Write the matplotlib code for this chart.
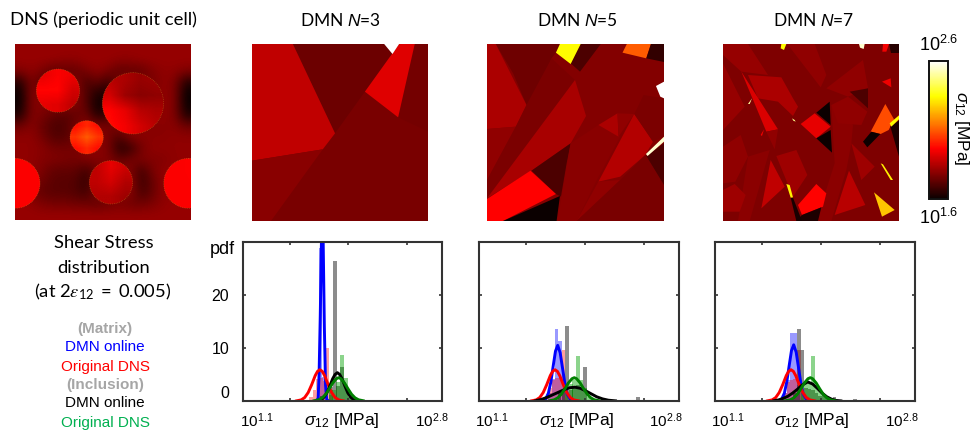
import numpy as np
import matplotlib
matplotlib.use("Agg")
import matplotlib.pyplot as plt
from matplotlib.collections import PolyCollection
from matplotlib.colors import Normalize
from matplotlib.cm import ScalarMappable
from matplotlib.patches import Circle

plt.rcParams["font.family"] = ["Liberation Sans", "DejaVu Sans"]
plt.rcParams["mathtext.fontset"] = "custom"
plt.rcParams["mathtext.rm"] = "Liberation Sans"
plt.rcParams["mathtext.it"] = "Liberation Sans:italic"
plt.rcParams["mathtext.bf"] = "Liberation Sans:bold"

W, H = 971, 432

# ---------- field data: colour-scale fraction between 10^1.6 and 10^2.6 ----------
dns_matrix_pct = [
    [21,21,21,21,21,21,21,21,21,21,21,21,21,21,21,21],
    [21,21,21,21,20,20,21,21,21,20,20,21,21,21,21,21],
    [18,20,17,12,13,13,17,20,17,12,13,13,18,20,20,18],
    [ 4,18,10,19,19,19, 9,14, 7,19,19,19,16,20,18, 4],
    [ 0,18,18,19,19,19,11, 3, 3,19,19,19,19,20,18, 0],
    [ 0,18,18,19,19,19,11, 0, 4,19,19,19,19,20,18, 0],
    [ 3,18,17,13,12,13,16, 2, 9,19,19,19,19,20,18, 3],
    [15,19,14,10,10,16,19,18,16,18,19,19,19,19,19,15],
    [20,20,16,11,11,16,20,20,16,10,19,19,19,19,20,20],
    [20,20,19,16,16,16,20,20,17, 4, 6,16,20,20,20,20],
    [20,20,18,18,17,16,18,18,18,13,16,18,18,18,20,20],
    [20,20,17,13,13,13, 8,16,18,18,18, 8,17,20,20,20],
    [20,18,15,12,12,11, 6,18,20,20,20, 7,14,20,20,20],
    [20,16,13,12,12,11, 8,19,20,20,20, 9,14,20,20,20],
    [21,20,17,16,16,15,15,13,15,17,15,15,17,20,21,21],
    [21,21,21,21,21,21,21,21,21,21,21,21,21,21,21,21],
]
dns_circle_centers = [(173, 272), (398, 310), (259, 412), (332, 547), (44, 550), (565, 550)]
dns_circle_radii = [65, 92, 50, 65, 75, 75]
dns_circle_values = [
    [[.33,.36,.34],[.37,.37,.30],[.33,.32,.27]],
    [[.26,.24,.21,.22],[.30,.22,.19,.20],[.37,.33,.26,.24],[.38,.35,.30,.26]],
    [[.38,.42,.38],[.44,.50,.44],[.38,.42,.38]],
    [[.27,.33,.29],[.27,.30,.25],[.25,.25,.22]],
    [[.36,.36],[.37,.36]],
    [[.36,.37],[.36,.36]],
]

n3_cells = [
    [(35,42),(565,42),(565,573),(35,573)],
    [(158,42),(435,42),(460,70),(375,185),(285,310)],
    [(525,42),(565,42),(565,305),(475,262)],
    [(35,42),(158,42),(285,310),(248,358),(35,392)],
    [(35,392),(248,358),(92,573),(35,573)],
    [(478,42),(525,42),(475,262),(375,185)],
    [(433,42),(478,42),(458,72)],
]
n3_values = [.165,.145,.16,.27,.19,.32,1.0]

n5_cells = [
    [(22,42),(551,42),(551,573),(22,573)],
    [(48,42),(240,42),(228,68),(215,85),(155,225),(140,225),(100,130)],
    [(22,42),(48,42),(140,225),(108,290),(22,297)],
    [(22,297),(108,290),(22,450)],
    [(22,450),(108,290),(140,225),(215,85),(285,150),(150,370),(22,505)],
    [(22,505),(285,150),(318,258),(272,340),(155,422)],
    [(272,340),(155,422),(228,492),(243,500),(260,400)],
    [(22,507),(152,422),(228,492),(70,573),(22,573)],
    [(70,573),(240,498),(230,573)],
    [(272,340),(355,285),(420,320),(350,450),(290,573),(232,573),(245,500)],
    [(355,285),(412,250),(415,320)],
    [(412,250),(462,252),(415,320)],
    [(462,252),(518,335),(495,375),(420,440),(355,455)],
    [(355,455),(420,450),(290,573)],
    [(495,375),(551,465),(551,573),(290,573),(420,450)],
    [(498,378),(551,340),(551,465)],
    [(490,195),(551,205),(551,320),(518,335),(462,252)],
    [(300,42),(362,42),(300,125),(272,100)],
    [(240,42),(302,42),(272,102),(228,68)],
    [(440,42),(512,42),(498,85),(427,68)],
    [(512,42),(551,42),(551,96),(498,85)],
    [(527,168),(551,155),(551,205),(540,200)],
    [(497,372),(551,320),(551,335),(502,378)],
]
n5_values = [.18,.15,.24,.2,.17,.235,.1,.365,0,.19,.24,.2,.25,.2,.165,.1,.17,.1,.74,.5,.06,1.0,.95]

n7_cells = [
    [(25,42),(553,42),(553,573),(25,573)],
    [(350,225),(415,285),(410,340),(395,420),(350,573),(305,573),(360,400)],
    [(165,360),(105,573),(70,573),(100,380)],
    [(25,42),(100,42),(160,135),(80,125),(25,75)],
    [(25,100),(90,230),(25,300)],
    [(218,42),(300,42),(335,135),(318,172)],
    [(335,175),(445,90),(460,175),(400,200)],
    [(100,135),(200,142),(235,205),(250,230),(235,258),(190,215),(130,205)],
    [(80,125),(190,298),(155,305)],
    [(155,305),(190,298),(180,358)],
    [(25,350),(78,315),(100,380),(62,455),(25,460)],
    [(25,480),(60,462),(93,495),(75,545),(25,545)],
    [(185,378),(245,360),(278,435),(235,500)],
    [(168,390),(210,470),(140,535)],
    [(403,422),(452,525),(360,555)],
    [(410,340),(480,410),(440,450)],
    [(350,225),(400,200),(458,245),(440,285),(370,280)],
    [(250,525),(305,462),(335,490),(325,530),(262,555)],
    [(262,555),(320,532),(310,573),(245,573)],
    [(258,282),(300,250),(348,290),(305,325)],
    [(305,248),(345,215),(348,285)],
    [(305,325),(348,300),(352,368)],
    [(468,305),(512,222),(538,268),(522,300),(498,312)],
    [(445,335),(470,305),(497,312),(458,352)],
    [(527,290),(553,272),(553,380)],
    [(525,280),(553,256),(553,268),(530,290)],
    [(405,185),(460,175),(460,235)],
    [(502,155),(528,145),(530,172)],
    [(505,42),(523,42),(515,65),(503,65)],
    [(523,42),(553,42),(553,68),(530,68)],
    [(200,42),(215,42),(208,60),(198,55)],
    [(433,42),(450,42),(447,57),(436,53)],
    [(100,222),(112,205),(105,222)],
    [(232,265),(240,270),(243,275),(236,272)],
    [(138,315),(148,298),(142,318)],
    [(228,503),(235,503),(262,573),(245,573)],
    [(215,462),(225,465),(235,502),(228,503)],
    [(478,487),(540,540),(502,560)],
    [(498,400),(505,403),(535,450),(528,450)],
]
n7_values = [.175,.195,.195,.21,.21,.2,.2,.24,.31,.2,.2,.22,.22,.27,.26,.22,.2,.37,.03,.33,0,0,.48,0,.03,.74,.1,
             .34,.35,.04,.74,.95,.9,.88,.35,.02,.72,.66,.72]

# ---------- histogram data: log10(stress) of bin start, pdf height ----------
p1_blue_bins = [1.751, 1.774]
p1_blue_h = [28.9, 4.5]
p1_red_bins = [1.666, 1.695, 1.723, 1.752, 1.780, 1.809, 1.837]
p1_red_h = [0.8, 2.0, 4.2, 4.3, 3.7, 10.0, 1.2]
p1_gray_bins = [1.76, 1.834, 1.869, 1.897, 1.929, 1.963, 1.995]
p1_gray_h = [0.9, 2.6, 26.5, 2.8, 6.5, 2.4, 0.8]
p1_green_bins = [1.834, 1.863, 1.896, 1.929, 1.961, 1.995, 2.03]
p1_green_h = [2.0, 2.0, 3.6, 8.7, 4.3, 1.0, 0.4]

p2_blue_bins = [1.604, 1.689, 1.718, 1.746, 1.774, 1.803]
p2_blue_h = [0.6, 1.5, 4.2, 13.6, 11.4, 5.0]
p2_red_bins = [1.661, 1.689, 1.718, 1.746, 1.774, 1.803, 1.831]
p2_red_h = [1.0, 2.5, 4.0, 4.4, 4.3, 9.7, 1.5]
p2_gray_bins = [1.77, 1.803, 1.831, 1.865, 1.893, 1.924, 1.956, 1.984, 2.434]
p2_gray_h = [1.5, 2.0, 14.1, 2.0, 2.5, 3.0, 2.0, 6.5, 0.8]
p2_green_bins = [1.831, 1.865, 1.893, 1.924, 1.956, 1.984, 2.015, 2.045]
p2_green_h = [1.5, 3.2, 4.0, 8.5, 4.0, 2.5, 0.7, 0.3]

p3_blue_bins = [1.681, 1.709, 1.7375, 1.766, 1.794]
p3_blue_h = [1.5, 4.0, 12.9, 12.9, 3.0]
p3_red_bins = [1.681, 1.709, 1.7375, 1.766, 1.80, 1.828]
p3_red_h = [1.5, 3.5, 4.0, 4.2, 9.6, 1.5]
p3_gray_bins = [1.766, 1.80, 1.828, 1.859, 1.888, 1.916, 1.947, 1.975, 2.007, 2.037, 2.066, 2.10, 2.276]
p3_gray_h = [1.5, 13.5, 9.6, 2.5, 2.2, 2.0, 1.5, 1.0, 1.2, 0.8, 0.6, 0.7, 0.35]
p3_green_bins = [1.828, 1.859, 1.888, 1.916, 1.947, 1.975, 2.007, 2.037, 2.066]
p3_green_h = [1.5, 3.5, 3.5, 8.5, 3.0, 2.0, 1.2, 0.7, 0.3]

# ---------- fitted curves: log10(stress), pdf ----------
p1_blue_x = [1.73,1.742,1.75,1.76,1.77,1.777,1.785,1.795,1.805,1.815,1.83]
p1_blue_y = [0,0.6,5,16,30,36,30,14,3,0.3,0]
p1_red_x = [1.557,1.597,1.627,1.657,1.687,1.717,1.737,1.757,1.777,1.797,1.827,1.857,1.887,1.917,1.957]
p1_red_y = [0.03,0.21,0.65,1.6,3.1,4.8,5.6,5.9,5.6,4.8,3.1,1.6,0.65,0.21,0.03]
p1_black_x = [1.731,1.766,1.791,1.816,1.841,1.866,1.886,1.906,1.926,1.946,1.971,1.996,2.021,2.046,2.081]
p1_black_y = [0.05,0.26,0.7,1.5,2.8,4.2,5.0,5.35,5.0,4.2,2.8,1.5,0.7,0.26,0.05]
p1_green_x = [1.707,1.747,1.777,1.807,1.837,1.867,1.897,1.917,1.937,1.967,1.997,2.027,2.057,2.087,2.127]
p1_green_y = [0.05,0.23,0.6,1.28,2.3,3.4,4.2,4.4,4.2,3.4,2.3,1.28,0.6,0.23,0.05]

p2_blue_x = [1.66,1.69,1.71,1.73,1.75,1.769,1.79,1.81,1.83,1.85,1.88,1.91]
p2_blue_y = [0.03,1.5,3.5,6.5,9.4,10.5,9.1,6.2,3.3,1.3,0.2,0.01]
p2_red_x = [1.546,1.586,1.616,1.646,1.676,1.706,1.726,1.746,1.766,1.786,1.816,1.846,1.876,1.906,1.946]
p2_red_y = [0.03,0.21,0.65,1.6,3.1,4.8,5.6,5.9,5.6,4.8,3.1,1.6,0.65,0.21,0.03]
p2_black_x = [1.58,1.63,1.68,1.73,1.78,1.83,1.87,1.916,1.96,2.0,2.05,2.1,2.15,2.2,2.26]
p2_black_y = [0.05,0.3,0.7,1.2,1.7,2.2,2.5,2.6,2.4,2.0,1.4,0.8,0.4,0.15,0.03]
p2_green_x = [1.70,1.74,1.77,1.80,1.83,1.86,1.89,1.91,1.93,1.96,1.99,2.02,2.05,2.08,2.12]
p2_green_y = [0.05,0.23,0.6,1.28,2.3,3.4,4.2,4.4,4.2,3.4,2.3,1.28,0.6,0.23,0.05]

p3_blue_x = [1.66,1.69,1.71,1.73,1.75,1.769,1.79,1.81,1.83,1.85,1.88,1.91]
p3_blue_y = [0.03,1.5,3.6,6.6,9.5,10.6,9.2,6.3,3.3,1.3,0.2,0.01]
p3_red_x = [1.546,1.586,1.616,1.646,1.676,1.706,1.726,1.746,1.766,1.786,1.816,1.846,1.876,1.906,1.946]
p3_red_y = [0.03,0.21,0.65,1.6,3.1,4.8,5.6,5.9,5.6,4.8,3.1,1.6,0.65,0.21,0.03]
p3_black_x = [1.60,1.64,1.68,1.72,1.76,1.80,1.84,1.888,1.93,1.97,2.01,2.05,2.09,2.13,2.17]
p3_black_y = [0.05,0.2,0.5,0.9,1.5,2.2,3.0,3.6,3.2,2.4,1.5,0.8,0.35,0.1,0.02]
p3_green_x = [1.70,1.74,1.77,1.80,1.83,1.86,1.89,1.91,1.93,1.96,1.99,2.02,2.05,2.08,2.12]
p3_green_y = [0.05,0.23,0.6,1.28,2.3,3.4,4.2,4.4,4.2,3.4,2.3,1.28,0.6,0.23,0.05]

ytick_values = [0, 10, 20, 30]
ytick_labels = ["0", "10", "20", ""]
xtick_exponents = [1.5, 2.0, 2.5]
sidebar_labels = ["(Matrix)", "DMN online", "Original DNS", "(Inclusion)", "DMN online", "Original DNS"]
sidebar_colors = ["#a6a6a6", "#0000ff", "#ff0000", "#a6a6a6", "#000000", "#00b050"]

# ---------- figure ----------
fig = plt.figure(figsize=(W / 100, H / 100), dpi=100, facecolor="white")
norm = Normalize(1.6, 2.6)


def px_axes(x0, y0, x1, y1):
    return fig.add_axes([x0 / W, 1 - y1 / H, (x1 - x0) / W, (y1 - y0) / H])


def px_text(x, y, s, **kw):
    kw.setdefault("ha", "center")
    kw.setdefault("va", "center")
    return fig.text(x / W, 1 - y / H, s, **kw)


def field_panel(rect, cells, values, lims):
    ax = px_axes(*rect)
    coll = PolyCollection(cells, array=1.6 + np.array(values), cmap="hot", norm=norm,
                          edgecolors="face", linewidths=0)
    ax.add_collection(coll)
    ax.set_xlim(lims[0], lims[1])
    ax.set_ylim(lims[3], lims[2])
    ax.axis("off")
    return ax


# DNS panel
ax = px_axes(15, 44, 191, 220)
ax.imshow(1.6 + np.array(dns_matrix_pct) / 100, cmap="hot", norm=norm, interpolation="bicubic",
          extent=(44, 572, 660, 132), aspect="auto")
for (cx, cy), r, vals in zip(dns_circle_centers, dns_circle_radii, dns_circle_values):
    im = ax.imshow(1.6 + np.array(vals), cmap="hot", norm=norm, interpolation="bilinear",
                   extent=(cx - r, cx + r, cy + r, cy - r), aspect="auto")
    disc = Circle((cx, cy), r, transform=ax.transData)
    im.set_clip_path(disc)
    ax.add_patch(Circle((cx, cy), r, fill=False, ec="#c08020", lw=0.5, ls=":", alpha=0.7))
ax.set_xlim(44, 572)
ax.set_ylim(660, 132)
ax.axis("off")

field_panel((252, 44, 428, 221), n3_cells, n3_values, (35, 565, 42, 573))
field_panel((487, 44, 664, 221), n5_cells, n5_values, (22, 551, 42, 573))
field_panel((723, 44, 899, 221), n7_cells, n7_values, (25, 553, 42, 573))

# colour bar
cax = px_axes(929, 61, 948, 199)
cb = fig.colorbar(ScalarMappable(norm=norm, cmap="hot"), cax=cax, orientation="vertical")
cb.set_ticks([])
cb.outline.set_linewidth(1.4)
cb.outline.set_edgecolor("#111111")
plt.rcParams["mathtext.default"] = "regular"
px_text(939, 45, r"$10^{2.6}$", fontsize=13)
px_text(939, 218, r"$10^{1.6}$", fontsize=13)
px_text(961, 128, r"$\mathit{\sigma}_{12}$ [MPa]", fontsize=12.3, rotation=270)

# titles
TITLE = ["Lato", "DejaVu Sans"]
px_text(103.5, 20, "DNS (periodic unit cell)", fontsize=13.3, family=TITLE)
px_text(340, 20, r"DMN $\mathit{N}$=3", fontsize=12.5, family=TITLE)
px_text(577, 20, r"DMN $\mathit{N}$=5", fontsize=12.5, family=TITLE)
px_text(814, 20, r"DMN $\mathit{N}$=7", fontsize=12.5, family=TITLE)

px_text(104, 243, "Shear Stress", fontsize=13.2, family=TITLE)
px_text(104, 268, "distribution", fontsize=13.2, family=TITLE)
px_text(103, 292, r"(at $2\mathit{\epsilon}_{12}\ =\ 0.005$)", fontsize=13.2, family=TITLE, math_fontfamily="stix")

sidebar_y = [329, 347, 367, 385, 403, 423]
for i, (lab, col, yy) in enumerate(zip(sidebar_labels, sidebar_colors, sidebar_y)):
    px_text(105, yy, lab, fontsize=11, color=col, fontweight="bold" if lab.startswith("(") else "normal")


# histogram panels
def hist_panel(rect, series, curves, xlabs, show_y):
    ax = px_axes(*rect)
    for (bins, heights), col, alpha, width in series:
        left = 10 ** np.array(bins)
        right = 10 ** (np.array(bins) + width)
        ax.bar(left, heights, width=right - left, align="edge", color=col, alpha=alpha, linewidth=0)
    for (xs, ys), col in curves:
        ax.plot(10 ** np.array(xs), ys, color=col, lw=2.1, solid_joinstyle="round")
    ax.set_xscale("log")
    ax.set_xlim(10 ** 1.1, 10 ** 2.8)
    ax.set_ylim(0, 30)
    ax.minorticks_off()
    ax.set_xticks([10 ** e for e in xtick_exponents])
    ax.set_xticklabels([])
    ax.set_yticks(ytick_values)
    ax.tick_params(which="major", direction="in", top=True, right=True, length=2.5, width=1.2, color="#333333")
    if show_y:
        ax.set_yticklabels(ytick_labels, fontsize=11.5)
        ax.tick_params(axis="y", pad=10)
        ax.get_yticklabels()[0].set_verticalalignment("bottom")
    else:
        ax.set_yticklabels([])
    for s in ax.spines.values():
        s.set_linewidth(1.5)
        s.set_color("#333333")
    for x, s, fs in xlabs:
        px_text(x, 421, s, fontsize=fs)
    return ax


C_BLUE, C_RED, C_GRAY, C_GREEN = "#0000ff", "#ff0000", "#000000", "#00a000"

hist_panel((243, 242, 442, 401),
           [((p1_blue_bins, p1_blue_h), C_BLUE, .4, .023), ((p1_red_bins, p1_red_h), C_RED, .38, .0285),
            ((p1_gray_bins, p1_gray_h), C_GRAY, .45, .032), ((p1_green_bins, p1_green_h), C_GREEN, .45, .032)],
           [((p1_blue_x, p1_blue_y), C_BLUE), ((p1_red_x, p1_red_y), C_RED),
            ((p1_black_x, p1_black_y), "black"), ((p1_green_x, p1_green_y), "#008000")],
           [(257, r"$10^{1.1}$", 11), (342, r"$\mathit{\sigma}_{12}$ [MPa]", 12.5), (432, r"$10^{2.8}$", 11)], True)
hist_panel((479, 242, 679, 401),
           [((p2_blue_bins, p2_blue_h), C_BLUE, .4, .0283), ((p2_red_bins, p2_red_h), C_RED, .38, .0283),
            ((p2_gray_bins, p2_gray_h), C_GRAY, .45, .031), ((p2_green_bins, p2_green_h), C_GREEN, .45, .031)],
           [((p2_blue_x, p2_blue_y), C_BLUE), ((p2_red_x, p2_red_y), C_RED),
            ((p2_black_x, p2_black_y), "black"), ((p2_green_x, p2_green_y), "#008000")],
           [(492, r"$10^{1.1}$", 11), (577, r"$\mathit{\sigma}_{12}$ [MPa]", 12.5), (666, r"$10^{2.8}$", 11)], False)
hist_panel((715, 242, 915, 401),
           [((p3_blue_bins, p3_blue_h), C_BLUE, .4, .0283), ((p3_red_bins, p3_red_h), C_RED, .38, .0283),
            ((p3_gray_bins, p3_gray_h), C_GRAY, .45, .031), ((p3_green_bins, p3_green_h), C_GREEN, .45, .031)],
           [((p3_blue_x, p3_blue_y), C_BLUE), ((p3_red_x, p3_red_y), C_RED),
            ((p3_black_x, p3_black_y), "black"), ((p3_green_x, p3_green_y), "#008000")],
           [(728, r"$10^{1.1}$", 11), (812, r"$\mathit{\sigma}_{12}$ [MPa]", 12.5), (902, r"$10^{2.8}$", 11)], False)

px_text(222.5, 250, "pdf", fontsize=13)

fig.savefig("out.png", dpi=100)
